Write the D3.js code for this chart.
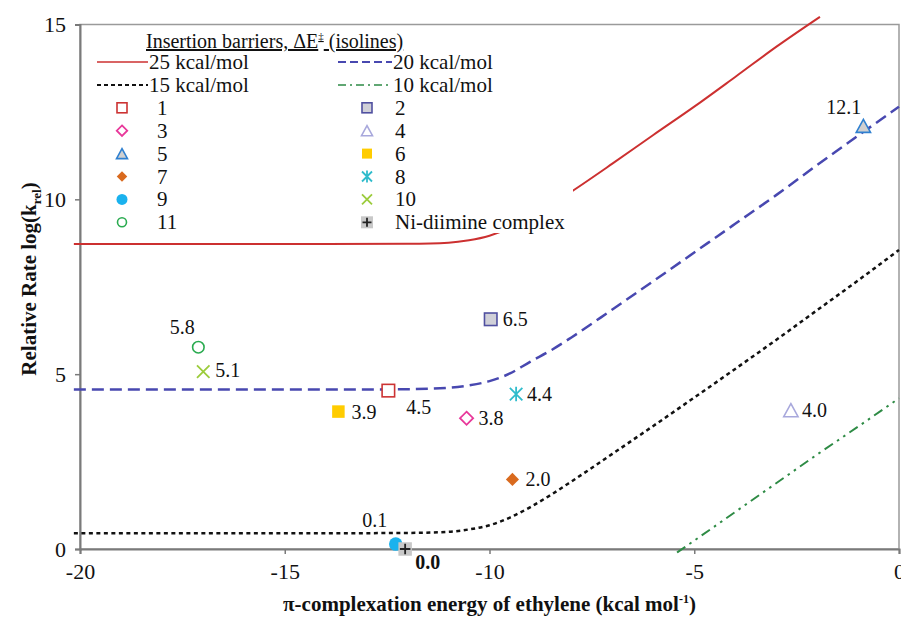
<!DOCTYPE html>
<html>
<head>
<meta charset="utf-8">
<script src="https://cdn.jsdelivr.net/npm/d3@7"></script>
<style>
  body { margin: 0; background: #fff; }
  svg, svg text { font-family: "Liberation Serif", "DejaVu Serif", serif; }
</style>
</head>
<body>
<svg id="chart" width="901" height="619"></svg>
<script>
// isolines (insertion barriers)
const iso25X = [-20.15, -14, -12, -11, -10.5, -10, -9.5, -9, -8.5, -8, -7, -6, -5, -4, -3, -1.93];
const iso25Y = [8.72, 8.72, 8.73, 8.76, 8.83, 8.96, 9.18, 9.48, 9.84, 10.22, 11.02, 11.84, 12.65, 13.5, 14.36, 15.22];
const iso20X = [-20.15, -14, -12, -11, -10.5, -10, -9.5, -9, -8.5, -8, -7, -6, -5, -4, -3, -2, -1, 0];
const iso20Y = [4.56, 4.56, 4.57, 4.61, 4.68, 4.8, 5.02, 5.36, 5.68, 6.05, 6.85, 7.66, 8.48, 9.3, 10.12, 10.98, 11.82, 12.65];
const iso15X = [-20.15, -14, -12, -11, -10.5, -10, -9.5, -9, -8.5, -8, -7, -6, -5, -4, -3, -2, -1, 0];
const iso15Y = [0.45, 0.45, 0.46, 0.49, 0.56, 0.68, 0.9, 1.2, 1.55, 1.93, 2.72, 3.52, 4.33, 5.15, 5.98, 6.83, 7.68, 8.55];
const iso10X = [-5.42, -5, -4, -3, -2, -1, 0];
const iso10Y = [-0.1, 0.24, 1.06, 1.88, 2.7, 3.5, 4.31];

// complexes
const pointNames = ['1', '2', '3', '4', '5', '6', '7', '8', '9', '10', '11', 'Ni-diimine complex'];
const pointX = [-12.47, -9.97, -10.56, -2.64, -0.87, -13.69, -9.44, -9.35, -12.29, -16.99, -17.11, -12.06];
const pointY = [4.53, 6.57, 3.74, 3.97, 12.1, 3.93, 1.99, 4.43, 0.14, 5.07, 5.77, 0.0];
const pointLabels = ['4.5', '6.5', '3.8', '4.0', '12.1', '3.9', '2.0', '4.4', '0.1', '5.1', '5.8', '0.0'];

const xTicks = [-20, -15, -10, -5, 0];
const yTicks = [0, 5, 10, 15];

const isolines = [
    { name: '25 kcal/mol', xs: iso25X, ys: iso25Y },
    { name: '20 kcal/mol', xs: iso20X, ys: iso20Y },
    { name: '15 kcal/mol', xs: iso15X, ys: iso15Y },
    { name: '10 kcal/mol', xs: iso10X, ys: iso10Y },
];

const FONT = '"Liberation Serif", "DejaVu Serif", serif';

const lineStyle = {
    '25 kcal/mol': { color: '#cc3030', width: 2, dash: null, legendDash: null },
    '20 kcal/mol': { color: '#4848b0', width: 2.5, dash: '12,6', legendDash: '8,4' },
    '15 kcal/mol': { color: '#111', width: 2.5, dash: '4,3.5', legendDash: '4,3' },
    '10 kcal/mol': { color: '#2e8b45', width: 2, dash: '10,5,2.5,5,2.5,5', legendDash: '8,4,2,4' },
};

const markerStyle = {
    '1': { shape: 'square', stroke: '#cc3333', fill: '#fff' },
    '2': { shape: 'square', stroke: '#5050a0', fill: '#d0d0d8' },
    '3': { shape: 'diamond', stroke: '#e8389a', fill: '#fff' },
    '4': { shape: 'triangle', stroke: '#a8a8dc', fill: '#fff' },
    '5': { shape: 'triangle', stroke: '#2f80d0', fill: '#d0d0d0' },
    '6': { shape: 'square', stroke: 'none', fill: '#ffcc00' },
    '7': { shape: 'diamond', stroke: 'none', fill: '#d96a1e' },
    '8': { shape: 'asterisk', stroke: '#30bccc', fill: 'none' },
    '9': { shape: 'circle', stroke: 'none', fill: '#1ab2ee' },
    '10': { shape: 'x', stroke: '#9ccc3c', fill: 'none' },
    '11': { shape: 'circle', stroke: '#2aab50', fill: '#fff' },
    'Ni-diimine complex': { shape: 'plus', stroke: '#222', fill: '#c8c8c8' },
};

// label placement relative to the marker
const labelPos = {
    '1': { dx: 18, dy: 23, anchor: 'start' },
    '2': { dx: 12, dy: 7, anchor: 'start' },
    '3': { dx: 12, dy: 7, anchor: 'start' },
    '4': { dx: 11, dy: 7, anchor: 'start' },
    '5': { dx: -2, dy: -12, anchor: 'end' },
    '6': { dx: 13, dy: 7, anchor: 'start' },
    '7': { dx: 13, dy: 7, anchor: 'start' },
    '8': { dx: 11, dy: 7, anchor: 'start' },
    '9': { dx: -21, dy: -17, anchor: 'middle' },
    '10': { dx: 12, dy: 5, anchor: 'start' },
    '11': { dx: -16, dy: -13, anchor: 'middle' },
    'Ni-diimine complex': { dx: 10, dy: 20, anchor: 'start', bold: true },
};

const svg = d3.select('#chart');
const x = d3.scaleLinear().domain([-20, 0]).range([80, 899]);
const y = d3.scaleLinear().domain([0, 15]).range([549, 24.5]);

// frame
svg.append('rect')
    .attr('x', 80).attr('y', 24.5)
    .attr('width', 819).attr('height', 524.5)
    .attr('fill', 'none').attr('stroke', '#9a9a9a').attr('stroke-width', 1.5);

// axes
const xAxis = svg.append('g').attr('transform', 'translate(0,549)')
    .call(d3.axisBottom(x).tickValues(xTicks).tickSize(5).tickFormat(d => String(d)));
const yAxis = svg.append('g').attr('transform', 'translate(80,0)')
    .call(d3.axisLeft(y).tickValues(yTicks).tickSize(5).tickFormat(d => String(d)));

[xAxis, yAxis].forEach(ax => {
    ax.attr('font-family', FONT).attr('font-size', 22);
    ax.select('.domain').attr('stroke', '#7a7a7a').attr('stroke-width', 2);
    ax.selectAll('.tick line').attr('stroke', '#7a7a7a').attr('stroke-width', 1.5);
    ax.selectAll('.tick text').attr('fill', '#111');
});
xAxis.selectAll('.tick text').attr('y', 14).attr('dy', '0.71em');
yAxis.selectAll('.tick text').attr('x', -14).attr('dy', '0.34em');

// isolines
const line = d3.line()
    .x(d => x(d[0]))
    .y(d => y(d[1]))
    .curve(d3.curveMonotoneX);

isolines.forEach(s => {
    const st = lineStyle[s.name];
    svg.append('path')
        .datum(s.xs.map((v, i) => [v, s.ys[i]]))
        .attr('d', line)
        .attr('fill', 'none')
        .attr('stroke', st.color)
        .attr('stroke-width', st.width)
        .attr('stroke-dasharray', st.dash);
});

function drawMarker(g, name, cx, cy, size) {
    const st = markerStyle[name];
    const h = size / 2;
    if (st.shape === 'square') {
        g.append('rect').attr('x', cx - h).attr('y', cy - h)
            .attr('width', size).attr('height', size)
            .attr('fill', st.fill).attr('stroke', st.stroke).attr('stroke-width', 1.6);
    } else if (st.shape === 'diamond') {
        const r = h * 1.05;
        g.append('path')
            .attr('d', `M${cx},${cy - r}L${cx + r},${cy}L${cx},${cy + r}L${cx - r},${cy}Z`)
            .attr('fill', st.fill).attr('stroke', st.stroke).attr('stroke-width', 1.8);
    } else if (st.shape === 'triangle') {
        const w = size * 1.1;
        g.append('path')
            .attr('d', `M${cx},${cy - h}L${cx + w / 2},${cy + h}L${cx - w / 2},${cy + h}Z`)
            .attr('fill', st.fill).attr('stroke', st.stroke).attr('stroke-width', 1.6);
    } else if (st.shape === 'circle') {
        g.append('circle').attr('cx', cx).attr('cy', cy)
            .attr('r', st.stroke === 'none' ? h + 0.5 : h - 0.5)
            .attr('fill', st.fill).attr('stroke', st.stroke).attr('stroke-width', 1.6);
    } else if (st.shape === 'x') {
        g.append('path')
            .attr('d', `M${cx - h},${cy - h}L${cx + h},${cy + h}M${cx - h},${cy + h}L${cx + h},${cy - h}`)
            .attr('stroke', st.stroke).attr('stroke-width', 1.8);
    } else if (st.shape === 'asterisk') {
        g.append('path')
            .attr('d', `M${cx - h},${cy - h}L${cx + h},${cy + h}M${cx - h},${cy + h}L${cx + h},${cy - h}M${cx},${cy - h - 1}L${cx},${cy + h + 1}`)
            .attr('stroke', st.stroke).attr('stroke-width', 1.8);
    } else if (st.shape === 'plus') {
        g.append('rect').attr('x', cx - h).attr('y', cy - h)
            .attr('width', size).attr('height', size).attr('fill', st.fill);
        g.append('path')
            .attr('d', `M${cx - h + 1.5},${cy}L${cx + h - 1.5},${cy}M${cx},${cy - h + 1.5}L${cx},${cy + h - 1.5}`)
            .attr('stroke', st.stroke).attr('stroke-width', 1.8);
    }
}

// legend box (white, covers part of the 25 kcal/mol line)
const legend = svg.append('g').attr('font-family', FONT);
legend.append('rect')
    .attr('x', 85).attr('y', 27).attr('width', 488).attr('height', 206)
    .attr('fill', '#fff');

legend.append('text')
    .attr('x', 146).attr('y', 48)
    .attr('font-size', 20).attr('fill', '#111')
    .attr('text-decoration', 'underline')
    .html('Insertion barriers, ΔE<tspan font-size="11" dy="-8">‡</tspan><tspan dy="8"> (isolines)</tspan>');

const col1 = ['25 kcal/mol', '15 kcal/mol', '1', '3', '5', '7', '9', '11'];
const col2 = ['20 kcal/mol', '10 kcal/mol', '2', '4', '6', '8', '10', 'Ni-diimine complex'];
const rowY = i => 62 + 22.9 * i;

[[col1, 97, 148, 122, 157], [col2, 338, 392, 367, 395]].forEach(([items, lx0, lx1, mx, tx]) => {
    items.forEach((name, i) => {
        const cy = rowY(i);
        if (lineStyle[name]) {
            const st = lineStyle[name];
            legend.append('line')
                .attr('x1', lx0).attr('x2', lx1).attr('y1', cy).attr('y2', cy)
                .attr('stroke', st.color).attr('stroke-width', st.width - 0.5)
                .attr('stroke-dasharray', st.legendDash);
            legend.append('text')
                .attr('x', lx1 + 1).attr('y', cy + 7)
                .attr('font-size', 21).attr('fill', '#111').text(name);
        } else {
            drawMarker(legend, name, mx, cy, name === 'Ni-diimine complex' ? 12 : 10);
            legend.append('text')
                .attr('x', tx).attr('y', cy + 7)
                .attr('font-size', 21).attr('fill', '#111').text(name);
        }
    });
});

// data points and value labels
const pts = svg.append('g').attr('font-family', FONT);
pointNames.forEach((name, i) => {
    const size = markerStyle[name].shape === 'triangle' ? 13 : 12.5;
    drawMarker(pts, name, x(pointX[i]), y(pointY[i]), name === 'Ni-diimine complex' ? 13.5 : size);
});
pointNames.forEach((name, i) => {
    const lp = labelPos[name];
    pts.append('text')
        .attr('x', x(pointX[i]) + lp.dx)
        .attr('y', y(pointY[i]) + lp.dy)
        .attr('text-anchor', lp.anchor)
        .attr('font-size', 20)
        .attr('font-weight', lp.bold ? 'bold' : null)
        .attr('fill', '#111')
        .text(pointLabels[i]);
});

// axis titles
svg.append('text')
    .attr('x', 489.5).attr('y', 611)
    .attr('text-anchor', 'middle')
    .attr('font-family', FONT)
    .attr('font-size', 21).attr('font-weight', 'bold').attr('fill', '#111')
    .html('π-complexation energy of ethylene (kcal mol<tspan font-size="12" dy="-8">-1</tspan><tspan dy="8">)</tspan>');

svg.append('text')
    .attr('transform', 'translate(36,279) rotate(-90)')
    .attr('text-anchor', 'middle')
    .attr('font-family', FONT)
    .attr('font-size', 21).attr('font-weight', 'bold').attr('fill', '#111')
    .html('Relative Rate log(k<tspan font-size="13" dy="5">rel</tspan><tspan dy="-5">)</tspan>');
</script>
</body>
</html>
